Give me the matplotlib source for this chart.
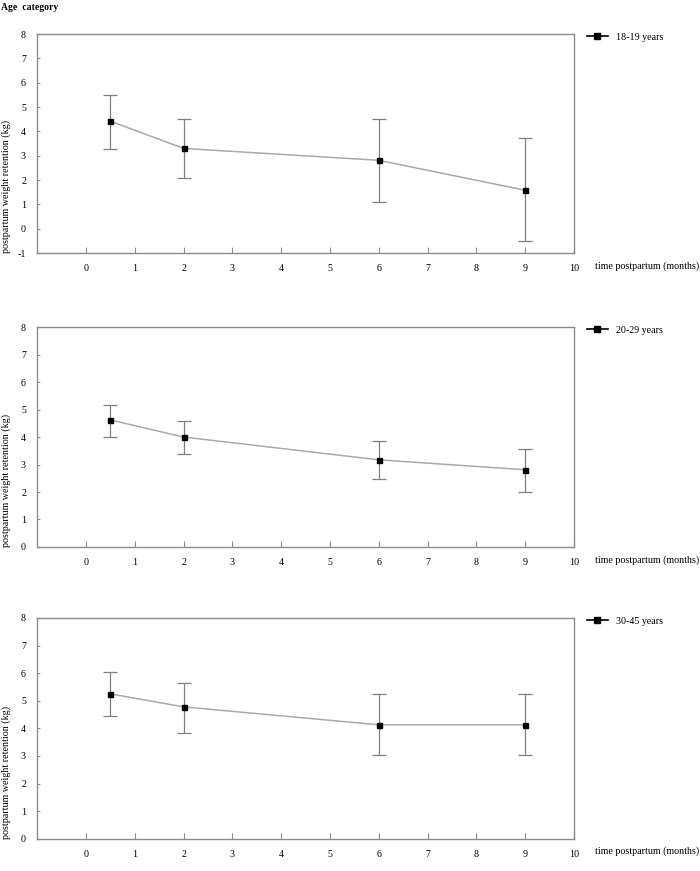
import numpy as np
import matplotlib
matplotlib.use('Agg')
import matplotlib.pyplot as plt
from matplotlib.lines import Line2D

plt.rcParams['font.family'] = ['Liberation Serif', 'DejaVu Serif']
plt.rcParams['axes.unicode_minus'] = False

# data
months = [0.5, 2, 6, 9]
groups = ['18-19 years', '20-29 years', '30-45 years']

mean_1819 = [4.42, 3.30, 2.81, 1.58]
low_1819 = [3.26, 2.09, 1.08, -0.51]
high_1819 = [5.49, 4.49, 4.50, 3.71]

mean_2029 = [4.62, 4.00, 3.17, 2.81]
low_2029 = [4.00, 3.39, 2.49, 1.99]
high_2029 = [5.16, 4.60, 3.87, 3.57]

mean_3045 = [5.25, 4.78, 4.13, 4.13]
low_3045 = [4.46, 3.85, 3.04, 3.04]
high_3045 = [6.06, 5.64, 5.26, 5.26]

x_ticks = list(range(0, 11))
y_lims = [(-1, 8), (0, 8), (0, 8)]

GREY_LINE = '#aaaaaa'
GREY_ERR = '#808080'
GREY_AX = '#8c8c8c'
FS = 7.2

fig = plt.figure(figsize=(7, 8.71), dpi=100)

boxes = [(0.053, 0.7095, 0.767, 0.2514),
         (0.053, 0.3720, 0.767, 0.2525),
         (0.053, 0.0370, 0.767, 0.2535)]

series = [(mean_1819, low_1819, high_1819),
          (mean_2029, low_2029, high_2029),
          (mean_3045, low_3045, high_3045)]

for box, (m, lo, hi), name, ylim in zip(boxes, series, groups, y_lims):
    ax = fig.add_axes(box)
    m = np.array(m)
    err = [m - np.array(lo), np.array(hi) - m]
    ax.errorbar(months, m, yerr=err, fmt='none', ecolor=GREY_ERR,
                elinewidth=0.9, capsize=5, capthick=0.9)
    ax.plot(months, m, color=GREY_LINE, lw=1.1, zorder=3)
    ax.plot(months, m, 's', color='black', ms=3.6, zorder=4)

    ax.set_xlim(-1, 10)
    ax.set_ylim(*ylim)
    ax.set_xticks(x_ticks)
    ax.set_yticks(range(ylim[0], ylim[1] + 1))
    for s in ax.spines.values():
        s.set_color(GREY_AX)
        s.set_linewidth(1.0)
    ax.tick_params(axis='x', direction='in', length=4.5, width=0.8,
                   color=GREY_AX, pad=8, labelsize=FS)
    ax.tick_params(axis='y', direction='in', length=2.5, width=0.8,
                   color=GREY_AX, pad=8, labelsize=FS)

    ax.text(-0.058, 0.0, 'postpartum weight retention (kg)', rotation=90,
            ha='center', va='bottom', fontsize=FS, transform=ax.transAxes)
    ax.text(1.040, -0.058, 'time postpartum (months)', ha='left',
            va='center', fontsize=FS, transform=ax.transAxes, clip_on=False)

    handle = Line2D([], [], color='black', lw=1.2, marker='s', ms=5)
    ax.legend([handle], [name], loc='upper left', bbox_to_anchor=(1.024, 1.005),
              frameon=False, borderaxespad=0, borderpad=0,
              handlelength=2.1, handletextpad=0.8, fontsize=FS)

fig.text(0.002, 0.997, 'Age  category', ha='left', va='top',
         fontsize=7, fontweight='bold')

fig.savefig('out.png', dpi=100)
